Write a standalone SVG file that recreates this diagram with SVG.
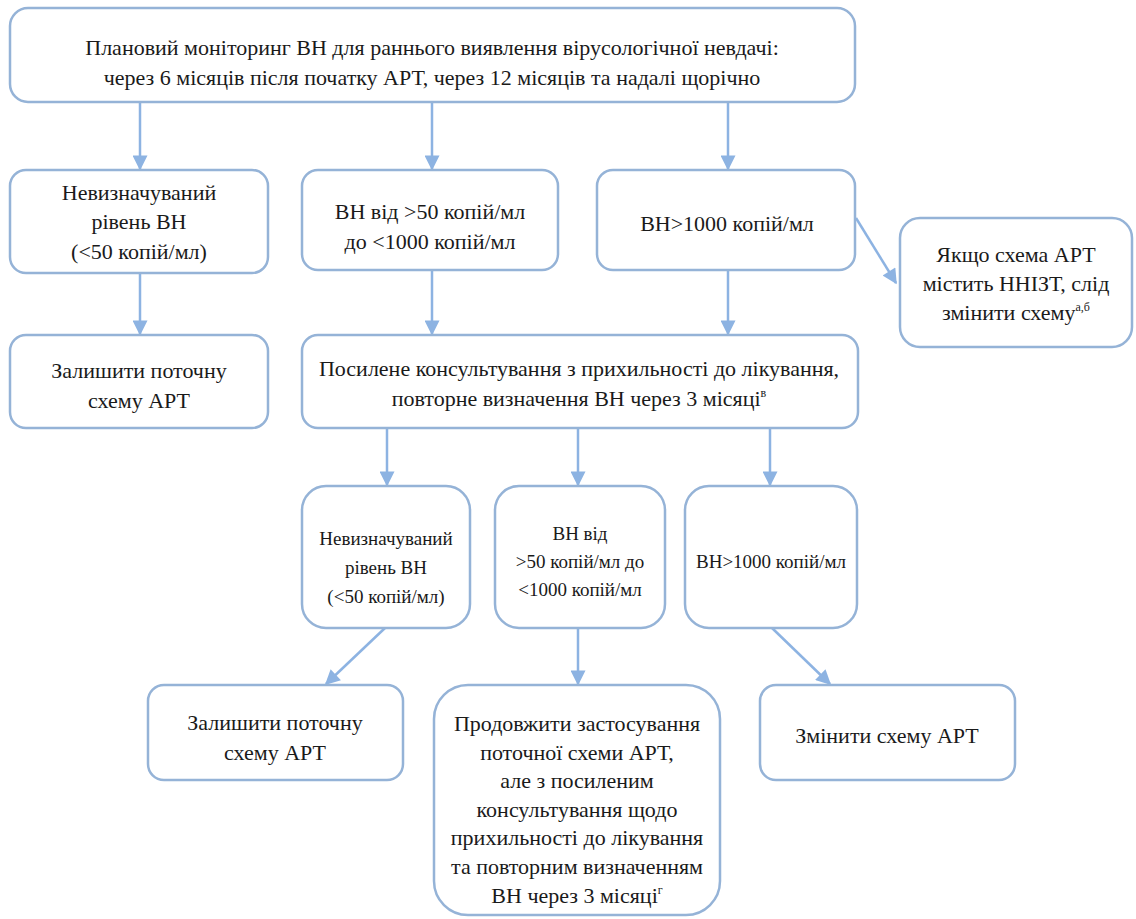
<svg xmlns="http://www.w3.org/2000/svg" width="1136" height="919" viewBox="0 0 1136 919">
<defs>
<marker id="ah" viewBox="0 0 10 10" refX="9" refY="5" markerWidth="6.5" markerHeight="6" markerUnits="strokeWidth" orient="auto">
<path d="M0,0 L10,5 L0,10 z" fill="#8db3e2"/>
</marker>
<style>
.box{fill:#ffffff;stroke:#95b3d7;stroke-width:2.5}
text{font-family:'Liberation Serif',serif;fill:#1a1a1a;text-anchor:middle}
.t{font-size:22px}
.s{font-size:19px}
.sup{font-size:12px}
.c{stroke:#8db3e2;stroke-width:2.5;fill:none;marker-end:url(#ah)}
</style>
</defs>
<rect width="1136" height="919" fill="#ffffff"/>
<g id="connectors">
<line class="c" x1="140" y1="102" x2="140" y2="169"/>
<line class="c" x1="432" y1="102" x2="432" y2="169"/>
<line class="c" x1="728" y1="102" x2="728" y2="169"/>
<line class="c" x1="856" y1="218" x2="896" y2="283"/>
<line class="c" x1="140" y1="273" x2="140" y2="334"/>
<line class="c" x1="432" y1="270" x2="432" y2="334"/>
<line class="c" x1="728" y1="270" x2="728" y2="334"/>
<line class="c" x1="387" y1="428" x2="387" y2="485"/>
<line class="c" x1="578" y1="428" x2="578" y2="485"/>
<line class="c" x1="770" y1="428" x2="770" y2="485"/>
<line class="c" x1="385" y1="628" x2="326" y2="684"/>
<line class="c" x1="578" y1="628" x2="578" y2="684"/>
<line class="c" x1="772" y1="628" x2="830" y2="684"/>
</g>
<g id="top">
<rect class="box" x="10" y="8" width="845" height="94" rx="18"/>
<text class="t" x="432" y="55">Плановий моніторинг ВН для раннього виявлення вірусологічної невдачі:</text>
<text class="t" x="432" y="85">через 6 місяців після початку АРТ, через 12 місяців та надалі щорічно</text>
</g>
<g id="undetect1">
<rect class="box" x="10" y="170" width="258" height="103" rx="16"/>
<text class="t" x="139" y="200">Невизначуваний</text>
<text class="t" x="139" y="229">рівень ВН</text>
<text class="t" x="139" y="259">(&lt;50 копій/мл)</text>
</g>
<g id="mid1">
<rect class="box" x="302" y="170" width="256" height="100" rx="16"/>
<text class="t" x="430" y="219">ВН від &gt;50 копій/мл</text>
<text class="t" x="430" y="249">до &lt;1000 копій/мл</text>
</g>
<g id="high1">
<rect class="box" x="597" y="170" width="258" height="100" rx="16"/>
<text class="t" x="727" y="231">ВН&gt;1000 копій/мл</text>
</g>
<g id="nnrti">
<rect class="box" x="900" y="218" width="232" height="129" rx="20"/>
<text class="t" x="1016" y="262">Якщо схема АРТ</text>
<text class="t" x="1016" y="291">містить ННІЗТ, слід</text>
<text class="t" x="1016" y="320">змінити схему<tspan class="sup" dy="-9">а,б</tspan></text>
</g>
<g id="keep1">
<rect class="box" x="10" y="335" width="258" height="93" rx="16"/>
<text class="t" x="139" y="378">Залишити поточну</text>
<text class="t" x="139" y="408">схему АРТ</text>
</g>
<g id="counsel">
<rect class="box" x="302" y="335" width="556" height="93" rx="16"/>
<text class="t" x="579" y="376">Посилене консультування з прихильності до лікування,</text>
<text class="t" x="579" y="406">повторне визначення ВН через 3 місяці<tspan class="sup" dy="-9">в</tspan></text>
</g>
<g id="undetect2">
<rect class="box" x="302" y="486" width="168" height="142" rx="24"/>
<text class="s" x="386" y="545">Невизначуваний</text>
<text class="s" x="386" y="574">рівень ВН</text>
<text class="s" x="386" y="603">(&lt;50 копій/мл)</text>
</g>
<g id="mid2">
<rect class="box" x="495" y="486" width="170" height="142" rx="24"/>
<text class="s" x="580" y="540">ВН від</text>
<text class="s" x="580" y="568">&gt;50 копій/мл до</text>
<text class="s" x="580" y="596">&lt;1000 копій/мл</text>
</g>
<g id="high2">
<rect class="box" x="685" y="486" width="172" height="142" rx="24"/>
<text class="s" x="771" y="568">ВН&gt;1000 копій/мл</text>
</g>
<g id="keep2">
<rect class="box" x="148" y="685" width="255" height="95" rx="16"/>
<text class="t" x="275" y="730">Залишити поточну</text>
<text class="t" x="275" y="760">схему АРТ</text>
</g>
<g id="continue">
<rect class="box" x="434" y="685" width="286" height="230" rx="34"/>
<text class="t" x="577" y="731">Продовжити застосування</text>
<text class="t" x="577" y="760">поточної схеми АРТ,</text>
<text class="t" x="577" y="788">але з посиленим</text>
<text class="t" x="577" y="817">консультування щодо</text>
<text class="t" x="577" y="845">прихильності до лікування</text>
<text class="t" x="577" y="874">та повторним визначенням</text>
<text class="t" x="577" y="903">ВН через 3 місяці<tspan class="sup" dy="-9">г</tspan></text>
</g>
<g id="change">
<rect class="box" x="760" y="685" width="255" height="95" rx="16"/>
<text class="t" x="887" y="743">Змінити схему АРТ</text>
</g>
</svg>
